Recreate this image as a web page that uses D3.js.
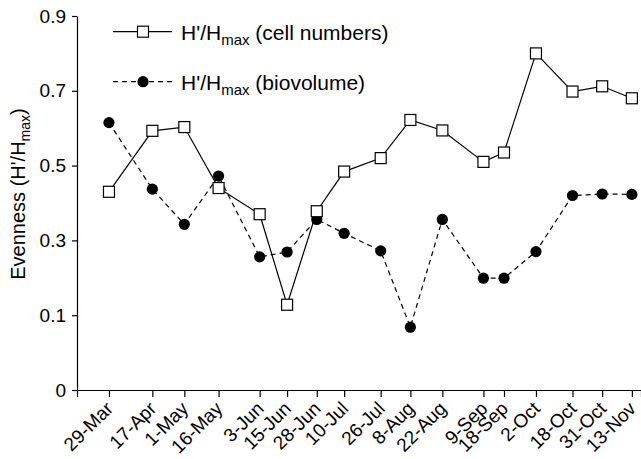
<!DOCTYPE html>
<html>
<head>
<meta charset="utf-8">
<script src="https://cdn.jsdelivr.net/npm/d3@7"></script>
<style>
  body { margin: 0; background: #fff; }
  svg { display: block; font-family: "Liberation Sans", Arial, sans-serif; }
</style>
</head>
<body>
<div id="chart"></div>
<script>
// sampling dates (year not shown on the chart)
const dates = ['29-Mar', '17-Apr', '1-May', '16-May', '3-Jun', '15-Jun', '28-Jun', '10-Jul',
    '26-Jul', '8-Aug', '22-Aug', '9-Sep', '18-Sep', '2-Oct', '18-Oct', '31-Oct', '13-Nov'];
const cellNumbers = [0.43, 0.593, 0.603, 0.44, 0.37, 0.128, 0.378, 0.484,
    0.52, 0.622, 0.594, 0.51, 0.535, 0.80, 0.698, 0.712, 0.68];
const biovolume = [0.615, 0.437, 0.343, 0.472, 0.256, 0.269, 0.356, 0.319,
    0.272, 0.084, 0.356, 0.199, 0.199, 0.27, 0.42, 0.424, 0.423];
const yTicks = [0, 0.1, 0.3, 0.5, 0.7, 0.9];

(function(){
    const width = 641;
    const height = 459;

    const parse = d3.timeParse('%d-%b-%Y');
    const fmt = d3.timeFormat('%-d-%b');
    const days = dates.map(d => parse(d + '-2001'));

    const svg = d3.select('#chart')
        .append('svg')
            .attr('width', width)
            .attr('height', height);

    const xScale = d3.scaleTime()
        .domain([parse('15-Mar-2001'), parse('17-Nov-2001')])
        .range([77, 641]);

    // the axis is drawn with a gap between 0 and 0.1
    const yScale = d3.scaleLinear()
        .domain([0, 0.1, 0.9])
        .range([390, 315.2, 16]);

    const xAxis = d3.axisBottom(xScale)
        .tickValues(days)
        .tickFormat(fmt)
        .tickSizeOuter(0)
        .tickSize(7);

    const gx = svg.append('g')
        .attr('transform', 'translate(0, 390)')
        .call(xAxis);
    gx.select('.domain').attr('stroke-width', 1.2);
    gx.selectAll('.tick line').attr('stroke-width', 1.2);
    gx.selectAll('text')
        .attr('font-size', 19)
        .attr('fill', '#000')
        .attr('x', 0).attr('y', 0).attr('dy', '0.35em')
        .attr('text-anchor', 'end')
        .attr('transform', 'translate(0, 15) rotate(-45)');

    const yAxis = d3.axisLeft(yScale)
        .tickValues(yTicks)
        .tickFormat(d => d === 0 ? '0' : d3.format('.1f')(d))
        .tickSize(5)
        .tickPadding(6)
        .tickSizeOuter(0);

    const gy = svg.append('g')
        .attr('transform', 'translate(77, 0)')
        .call(yAxis);
    gy.select('.domain').attr('stroke-width', 1.2);
    gy.selectAll('.tick line').attr('stroke-width', 1.2);
    gy.selectAll('text')
        .attr('font-size', 19)
        .attr('fill', '#000');

    const title = svg.append('text')
        .attr('transform', 'translate(25, 194) rotate(-90)')
        .attr('text-anchor', 'middle')
        .attr('font-size', 20);
    title.append('tspan').text("Evenness (H'/H");
    title.append('tspan').attr('font-size', 14).attr('dy', 5).text('max');
    title.append('tspan').attr('dy', -5).text(')');

    const series = [
        { name: 'cell numbers', values: cellNumbers, dash: null, shape: 'square' },
        { name: 'biovolume', values: biovolume, dash: '5,4', shape: 'circle' },
    ];

    const line = d3.line()
        .x(d => xScale(d[0]))
        .y(d => yScale(d[1]));

    series.forEach(s => {
        const pts = days.map((d, i) => [d, s.values[i]]);
        svg.append('path')
            .datum(pts)
            .attr('d', line)
            .attr('fill', 'none')
            .attr('stroke', '#000')
            .attr('stroke-width', 1.2)
            .attr('stroke-dasharray', s.dash);
    });

    function marker(g, shape) {
        if (shape === 'square') {
            g.append('rect')
                .attr('x', -5.5).attr('y', -5.5)
                .attr('width', 11).attr('height', 11)
                .attr('fill', '#fff')
                .attr('stroke', '#000')
                .attr('stroke-width', 1.2);
        } else {
            g.append('circle')
                .attr('r', 5.6)
                .attr('fill', '#000');
        }
    }

    // biovolume first so squares sit on top
    series.slice().reverse().forEach(s => {
        svg.append('g').selectAll('g')
            .data(days.map((d, i) => [d, s.values[i]]))
            .enter()
            .append('g')
                .attr('transform', d => `translate(${xScale(d[0])}, ${yScale(d[1])})`)
                .each(function(){ marker(d3.select(this), s.shape); });
    });

    // legend
    const legend = svg.append('g');
    series.forEach((s, i) => {
        const y = 31.7 + i * 50;
        const g = legend.append('g').attr('transform', `translate(0, ${y})`);
        g.append('line')
            .attr('x1', 113).attr('x2', 172)
            .attr('stroke', '#000')
            .attr('stroke-width', 1.2)
            .attr('stroke-dasharray', s.dash);
        marker(g.append('g').attr('transform', 'translate(143, 0)'), s.shape);
        const t = g.append('text')
            .attr('x', 181).attr('y', 7.8)
            .attr('font-size', 21);
        t.append('tspan').text("H'/H");
        t.append('tspan').attr('font-size', 15).attr('dy', 5).text('max');
        t.append('tspan').attr('dy', -5).text(` (${s.name})`);
    });
}())
</script>
</body>
</html>
